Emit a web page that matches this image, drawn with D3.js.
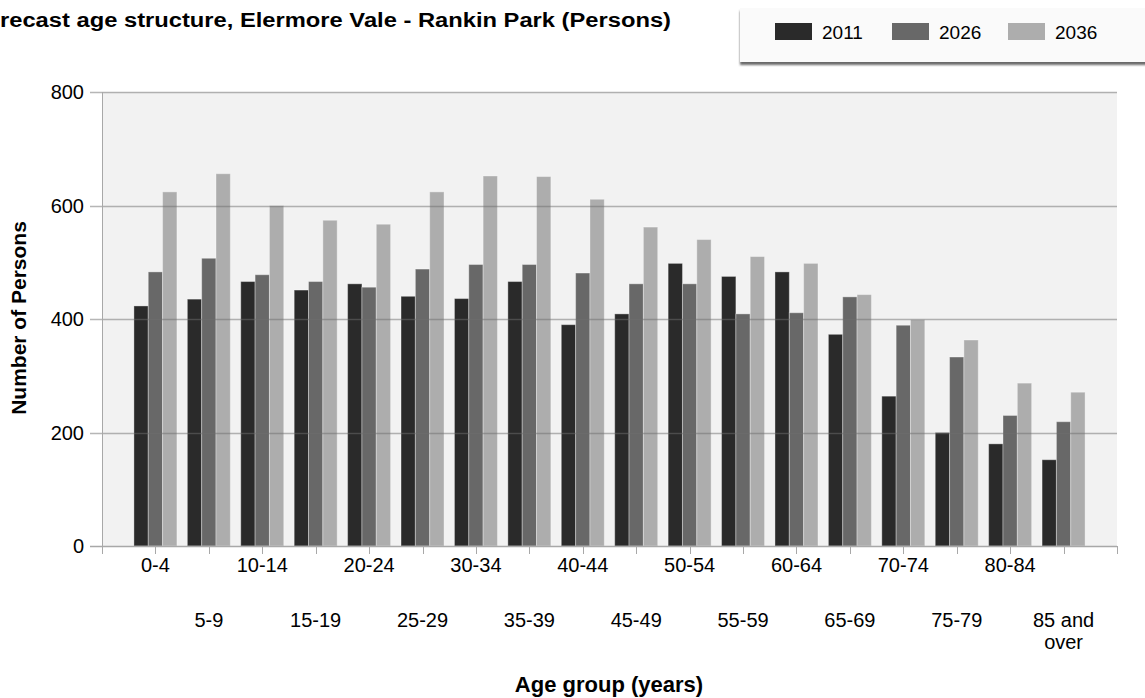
<!DOCTYPE html>
<html>
<head>
<meta charset="utf-8">
<script src="https://cdn.jsdelivr.net/npm/d3@7"></script>
<style>
    body { margin: 0; background: #fff; overflow: hidden; }
    text { font-family: "Liberation Sans", Arial, sans-serif; fill: #000; }
</style>
</head>
<body>
<script>
var ageGroups = ['0-4', '5-9', '10-14', '15-19', '20-24', '25-29', '30-34', '35-39', '40-44',
    '45-49', '50-54', '55-59', '60-64', '65-69', '70-74', '75-79', '80-84', '85 and over'];
var years = ['2011', '2026', '2036'];
var persons2011 = [423, 435, 466, 451, 462, 440, 436, 466, 390, 409, 498, 475, 483, 373, 264, 200, 180, 152];
var persons2026 = [483, 507, 478, 466, 456, 488, 496, 496, 481, 462, 462, 409, 411, 439, 389, 333, 230, 219];
var persons2036 = [624, 656, 600, 574, 567, 624, 652, 651, 611, 562, 540, 510, 498, 443, 399, 363, 287, 271];
var yTicks = [0, 200, 400, 600, 800];
var colours = ['#2a2a2a', '#686868', '#adadad'];

var series = [persons2011, persons2026, persons2036];

var W = 1145,
    H = 698,
    plotLeft = 102,
    plotRight = 1117,
    plotTop = 92,
    plotBottom = 546;

var svg = d3.select('body').append('svg')
    .attr('width', W)
    .attr('height', H);

var defs = svg.append('defs');
defs.append('filter')
    .attr('id', 'shadow')
    .attr('x', '-5%').attr('y', '-20%').attr('width', '110%').attr('height', '150%')
    .append('feDropShadow')
    .attr('dx', 0).attr('dy', 3)
    .attr('stdDeviation', 1.2)
    .attr('flood-color', '#444')
    .attr('flood-opacity', 0.8);

var x = d3.scalePoint()
        .domain(ageGroups)
        .range([plotLeft, plotRight])
        .padding(1),
    xInner = d3.scaleBand()
        .domain(years)
        .range([-21.5, 21.5]),
    y = d3.scaleLinear()
        .domain([0, 800])
        .range([plotBottom, plotTop]),
    colour = d3.scaleOrdinal()
        .domain(years)
        .range(colours);

// plot background
svg.append('rect')
    .attr('x', plotLeft)
    .attr('y', plotTop)
    .attr('width', plotRight-plotLeft)
    .attr('height', plotBottom-plotTop)
    .attr('fill', '#f2f2f2');

// bars
var rows = [];
ageGroups.forEach(function(g, i) {
    years.forEach(function(yr, j) {
        rows.push({group: g, year: yr, value: series[j][i]});
    });
});

svg.append('g')
    .selectAll('rect')
    .data(rows)
    .enter()
    .append('rect')
    .attr('x', function(d) { return x(d.group)+xInner(d.year); })
    .attr('y', function(d) { return y(d.value); })
    .attr('width', xInner.bandwidth())
    .attr('height', function(d) { return y(0)-y(d.value); })
    .attr('fill', function(d) { return colour(d.year); })
    .attr('stroke', 'rgba(255,255,255,0.35)')
    .attr('stroke-width', 1);

// gridlines, drawn over the bars
svg.append('g')
    .selectAll('line')
    .data(yTicks.slice(1))
    .enter()
    .append('line')
    .attr('x1', plotLeft-12)
    .attr('x2', plotRight)
    .attr('y1', function(d) { return Math.round(y(d))+0.5; })
    .attr('y2', function(d) { return Math.round(y(d))+0.5; })
    .attr('stroke', 'rgba(110,110,110,0.5)')
    .attr('stroke-width', 1.5);

// axes lines
svg.append('line')
    .attr('x1', plotLeft+0.5).attr('x2', plotLeft+0.5)
    .attr('y1', plotTop).attr('y2', plotBottom+8)
    .attr('stroke', '#a8a8a8');

svg.append('line')
    .attr('x1', plotLeft-12).attr('x2', plotRight)
    .attr('y1', plotBottom+0.5).attr('y2', plotBottom+0.5)
    .attr('stroke', '#a8a8a8')
    .attr('stroke-width', 1.5);

svg.append('g')
    .selectAll('text')
    .data(yTicks)
    .enter()
    .append('text')
    .attr('x', 84)
    .attr('y', function(d) { return y(d); })
    .attr('dy', '0.35em')
    .style('font-size', '20px')
    .style('text-anchor', 'end')
    .text(function(d) { return d; });

// x ticks at category centres and at both ends
var tickX = [plotLeft].concat(ageGroups.map(function(g) { return x(g); })).concat([plotRight]);
svg.append('g')
    .selectAll('line')
    .data(tickX)
    .enter()
    .append('line')
    .attr('x1', function(d) { return Math.round(d)+0.5; })
    .attr('x2', function(d) { return Math.round(d)+0.5; })
    .attr('y1', plotBottom)
    .attr('y2', plotBottom+8)
    .attr('stroke', '#a8a8a8');

// x labels, staggered on two rows
var xLabels = svg.append('g')
    .selectAll('text')
    .data(ageGroups)
    .enter()
    .append('text')
    .attr('x', function(d) { return x(d); })
    .attr('y', function(d, i) { return i%2 ? 627 : 572; })
    .style('font-size', '20px')
    .style('text-anchor', 'middle');

xLabels.each(function(d) {
    var t = d3.select(this),
        parts = d === '85 and over' ? ['85 and', 'over'] : [d];
    parts.forEach(function(p, k) {
        t.append('tspan')
            .attr('x', x(d))
            .attr('dy', k ? 22 : 0)
            .text(p);
    });
});

// axis titles
svg.append('text')
    .attr('transform', 'translate(26,318) rotate(-90)')
    .style('font-size', '21px')
    .style('font-weight', 'bold')
    .style('text-anchor', 'middle')
    .text('Number of Persons');

svg.append('text')
    .attr('x', 609)
    .attr('y', 692)
    .style('font-size', '22px')
    .style('font-weight', 'bold')
    .style('text-anchor', 'middle')
    .text('Age group (years)');

// title, its first letters cut off by the left edge as in the original
var titleText = 'Forecast age structure, Elermore Vale - Rankin Park (Persons)',
    cutText = 'Fo',
    visibleWidth = 671;
var title = svg.append('text')
    .attr('y', 27)
    .style('font-size', '20px')
    .style('font-weight', 'bold')
    .text(titleText);
var probe = svg.append('text')
    .style('font-size', '20px')
    .style('font-weight', 'bold')
    .text(cutText);
var fullW = title.node().getComputedTextLength(),
    cutW = probe.node().getComputedTextLength(),
    k = visibleWidth/(fullW-cutW);
probe.remove();
title
    .attr('x', -cutW*k)
    .attr('textLength', fullW*k)
    .attr('lengthAdjust', 'spacingAndGlyphs');

// legend
var legend = svg.append('g');
legend.append('rect')
    .attr('x', 740)
    .attr('y', 8)
    .attr('width', 420)
    .attr('height', 54)
    .attr('fill', '#fafafa')
    .attr('filter', 'url(#shadow)');

var legendX = [775, 892, 1008];
var items = legend.selectAll('g')
    .data(years)
    .enter()
    .append('g')
    .attr('transform', function(d, i) { return 'translate('+legendX[i]+',23)'; });

items.append('rect')
    .attr('width', 37)
    .attr('height', 17)
    .attr('fill', function(d) { return colour(d); });

items.append('text')
    .attr('x', 47)
    .attr('y', 16)
    .style('font-size', '19px')
    .text(function(d) { return d; });
</script>
</body>
</html>
